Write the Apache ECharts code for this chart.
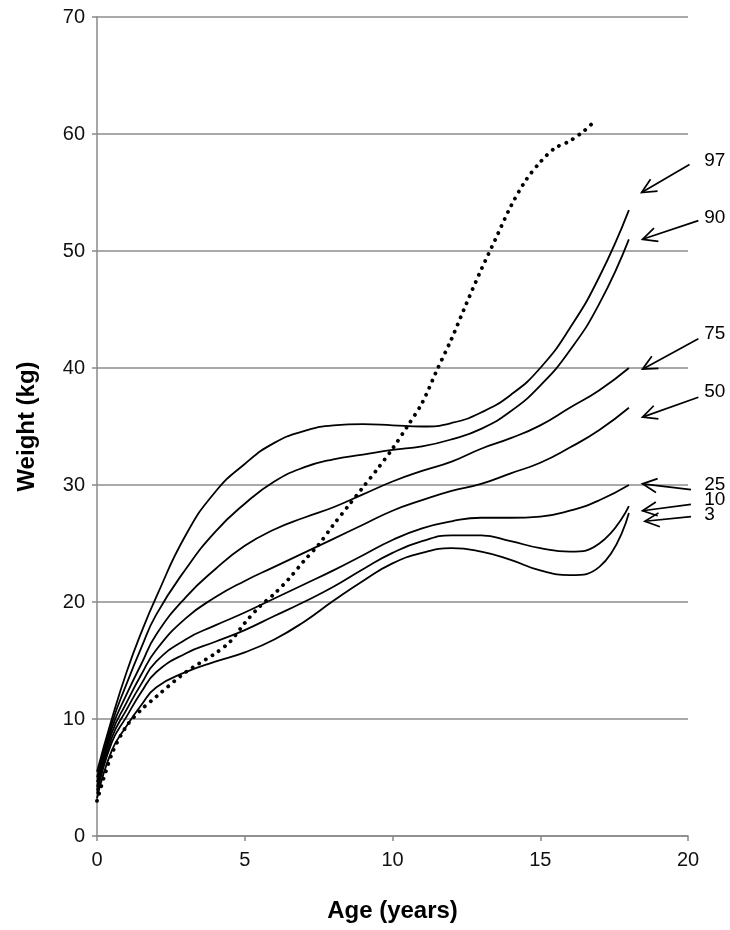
<!DOCTYPE html>
<html>
<head>
<meta charset="utf-8">
<script src="https://cdn.jsdelivr.net/npm/echarts@6/dist/echarts.min.js"></script>
<style>
  html, body { margin: 0; padding: 0; background: #fff; }
  #chart { width: 730px; height: 930px; }
</style>
</head>
<body>
<div id="chart"></div>
<script>
// ages (years) at which the percentile curves are read
const ages = [0, 0.5, 1, 1.5, 2, 3, 4, 5, 6, 7, 8, 9, 10, 11, 12, 13, 14, 15, 16, 17, 18];

// percentile curves, weight (kg)
const p97 = [5.5, 10.0, 14.0, 17.4, 20.4, 25.7, 29.4, 31.8, 33.6, 34.6, 35.1, 35.2, 35.1, 35.0, 35.3, 36.2, 37.7, 40.0, 43.4, 47.8, 53.5];
const p90 = [5.0, 9.6, 13.0, 16.1, 18.9, 22.8, 26.0, 28.4, 30.3, 31.5, 32.2, 32.6, 33.0, 33.3, 33.9, 34.8, 36.3, 38.5, 41.5, 45.5, 51.0];
const p75 = [4.6, 9.2, 12.1, 14.7, 17.2, 20.4, 22.8, 24.8, 26.2, 27.2, 28.1, 29.2, 30.3, 31.2, 32.0, 33.1, 34.0, 35.1, 36.6, 38.1, 40.0];
const p50 = [4.2, 8.8, 11.4, 13.8, 15.9, 18.6, 20.4, 21.8, 23.0, 24.2, 25.4, 26.6, 27.8, 28.7, 29.5, 30.1, 31.0, 31.9, 33.2, 34.7, 36.6];
const p25 = [3.9, 8.4, 10.8, 13.0, 14.9, 16.8, 18.0, 19.1, 20.3, 21.5, 22.7, 24.0, 25.3, 26.3, 26.9, 27.2, 27.2, 27.3, 27.8, 28.7, 30.0];
const p10 = [3.6, 8.0, 10.2, 12.3, 14.0, 15.6, 16.6, 17.6, 18.8, 20.0, 21.3, 22.8, 24.2, 25.2, 25.7, 25.7, 25.2, 24.6, 24.3, 25.0, 28.2];
const p3  = [3.2, 7.3, 9.4, 11.2, 12.7, 14.0, 14.9, 15.7, 16.8, 18.3, 20.1, 21.8, 23.3, 24.2, 24.6, 24.3, 23.6, 22.7, 22.3, 23.0, 27.6];

// the child's own measurements (dotted)
const childAge = [0, 0.5, 1, 1.5, 2, 3, 4, 4.5, 5, 5.5, 6, 6.5, 7, 7.5, 8, 8.5, 9, 9.5, 10, 10.5, 11, 11.5, 12, 12.5, 13, 13.5, 14, 14.5, 15, 15.5, 16, 16.5, 16.8];
const childWeight = [3.0, 7.0, 9.4, 10.8, 11.9, 14.0, 15.6, 16.6, 18.2, 19.6, 20.7, 22.0, 23.5, 24.9, 26.6, 28.2, 29.8, 31.4, 33.1, 35.0, 37.0, 39.8, 42.5, 45.5, 48.4, 51.1, 53.8, 56.0, 57.6, 58.8, 59.4, 60.3, 61.0];

// percentile labels with arrows (tail near label -> head near curve end)
const pctLabels = ['97', '90', '75', '50', '25', '10', '3'];
const tailAge = [20.05, 20.35, 20.35, 20.35, 20.1, 20.1, 20.1];
const tailKg = [57.4, 52.6, 42.5, 37.5, 29.6, 28.35, 27.3];
const headAge = [18.43, 18.46, 18.46, 18.46, 18.46, 18.46, 18.54];
const headKg = [55.0, 51.0, 39.9, 35.8, 30.1, 27.8, 26.9];
const labelAge = [20.55, 20.55, 20.55, 20.55, 20.55, 20.55, 20.55];
const labelKg = [57.7, 52.85, 42.96, 37.97, 30.0, 28.72, 27.44];

const yTicks = [0, 10, 20, 30, 40, 50, 60, 70];

const chart = echarts.init(document.getElementById('chart'));

const font = '"Liberation Sans", Arial, Helvetica, sans-serif';

function curve(name, values) {
  return {
    name: name,
    type: 'line',
    data: ages.map((a, i) => [a, values[i]]),
    smooth: 0.5,
    showSymbol: false,
    lineStyle: { color: '#000', width: 1.8 },
    z: 3
  };
}

const arrowData = pctLabels.map((t, i) => [tailAge[i], tailKg[i], headAge[i], headKg[i], labelAge[i], labelKg[i], t]);

const option = {
  animation: false,
  backgroundColor: '#fff',
  grid: { left: 97, right: 42, top: 17, bottom: 94 },
  xAxis: {
    type: 'value',
    min: 0,
    max: 20,
    interval: 5,
    name: 'Age (years)',
    nameLocation: 'middle',
    nameGap: 63,
    nameTextStyle: { fontFamily: font, fontWeight: 'bold', fontSize: 24, color: '#000' },
    axisLine: { lineStyle: { color: '#888', width: 1.5 } },
    axisTick: { show: true, length: 5, lineStyle: { color: '#888', width: 1.5 } },
    axisLabel: { fontFamily: font, fontSize: 20, color: '#111', margin: 14 },
    splitLine: { show: false }
  },
  yAxis: {
    type: 'value',
    min: 0,
    max: 70,
    interval: 10,
    name: 'Weight (kg)',
    nameLocation: 'middle',
    nameGap: 58,
    nameTextStyle: { fontFamily: font, fontWeight: 'bold', fontSize: 24, color: '#000' },
    axisLine: { show: true, lineStyle: { color: '#888', width: 1.5 } },
    axisTick: { show: true, length: 5, lineStyle: { color: '#888', width: 1.5 } },
    axisLabel: {
      fontFamily: font, fontSize: 20, color: '#111', margin: 12,
      formatter: v => (yTicks.indexOf(v) >= 0 ? String(v) : '')
    },
    splitLine: { show: true, lineStyle: { color: '#8c8c8c', width: 1.5 } }
  },
  series: [
    curve('97', p97),
    curve('90', p90),
    curve('75', p75),
    curve('50', p50),
    curve('25', p25),
    curve('10', p10),
    curve('3', p3),
    {
      name: 'child',
      type: 'line',
      data: childAge.map((a, i) => [a, childWeight[i]]),
      smooth: 0.3,
      showSymbol: false,
      lineStyle: { color: '#000', width: 3.8, type: [0.1, 7.6], cap: 'round' },
      z: 4
    },
    {
      // arrows + percentile labels on the right
      type: 'custom',
      clip: false,
      silent: true,
      data: arrowData,
      renderItem: function (params, api) {
        const t = api.coord([api.value(0), api.value(1)]);
        const h = api.coord([api.value(2), api.value(3)]);
        const l = api.coord([api.value(4), api.value(5)]);
        const ang = Math.atan2(t[1] - h[1], t[0] - h[0]);
        const len = 16, spread = 0.45;
        const a1 = [h[0] + len * Math.cos(ang + spread), h[1] + len * Math.sin(ang + spread)];
        const a2 = [h[0] + len * Math.cos(ang - spread), h[1] + len * Math.sin(ang - spread)];
        return {
          type: 'group',
          children: [
            { type: 'line', shape: { x1: t[0], y1: t[1], x2: h[0], y2: h[1] }, style: { stroke: '#000', lineWidth: 1.7 } },
            { type: 'polyline', shape: { points: [a1, h, a2] }, style: { stroke: '#000', lineWidth: 1.7, fill: null } },
            {
              type: 'text',
              x: l[0], y: l[1],
              style: {
                text: arrowData[params.dataIndex][6],
                fontFamily: font, fontSize: 19, fill: '#000',
                align: 'left', verticalAlign: 'middle'
              }
            }
          ]
        };
      },
      z: 5
    }
  ]
};

chart.setOption(option);
</script>
</body>
</html>
